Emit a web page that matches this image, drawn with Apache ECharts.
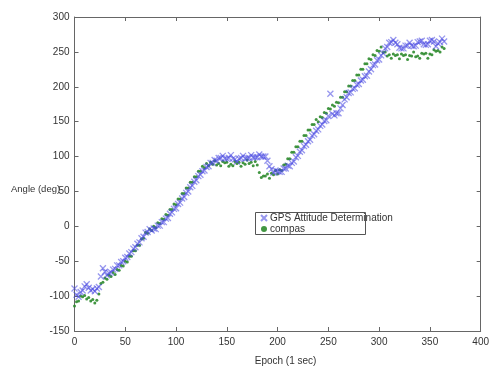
<!DOCTYPE html>
<html>
<head>
<meta charset="utf-8">
<script src="https://cdn.jsdelivr.net/npm/echarts@6/dist/echarts.min.js"></script>
<style>
  html, body { margin: 0; padding: 0; background: #fff; }
  #chart { width: 492px; height: 371px; }
</style>
</head>
<body>
<div id="chart"></div>
<script>
// epochs sampled every 2 s, from 0 to 364
const EPOCH_STEP = 2;
const xTicks = [0, 50, 100, 150, 200, 250, 300, 350, 400];
const yTicks = [-150, -100, -50, 0, 50, 100, 150, 200, 250, 300];

// GPS attitude determination (blue x)
const gps = [
  -89, -98, -101, -94, -92, -86, -83, -88, -92, -90,
  -93, -89, -87, -72, -60, -65, -70, -67, -66, -62,
  -61, -56, -56, -51, -50, -45, -44, -39, -37, -32,
  -30, -25, -23, -17, -15, -9, -8, -4, -6, -3,
  -4, 1, 1, 6, 6, 11, 12, 18, 20, 25,
  26, 32, 34, 40, 42, 48, 50, 56, 58, 64,
  66, 72, 74, 79, 80, 85, 86, 91, 91, 95,
  94, 98, 98, 101, 97, 97, 98, 102, 97, 96,
  93, 97, 98, 101, 97, 98, 98, 102, 99, 99,
  99, 103, 100, 100, 100, 94, 86, 82, 77, 80,
  79, 78, 78, 83, 83, 87, 86, 91, 93, 99,
  101, 107, 109, 115, 117, 122, 124, 130, 132, 137,
  139, 144, 146, 151, 152, 158, 190, 161, 159, 162,
  162, 169, 174, 182, 185, 191, 192, 197, 198, 203,
  204, 209, 210, 215, 216, 222, 225, 231, 232, 238,
  239, 245, 248, 255, 257, 263, 264, 267, 263, 261,
  256, 255, 255, 259, 259, 263, 259, 258, 259, 264,
  265, 266, 261, 260, 261, 266, 267, 265, 258, 262,
  264, 269, 265
];

// compass (green dots)
const compas = [
  -114, -108, -107, -100, -101, -99, -104, -102, -107, -105,
  -110, -106, -97, -82, -80, -74, -76, -70, -72, -66,
  -69, -62, -63, -56, -57, -50, -51, -43, -43, -35,
  -35, -27, -27, -18, -17, -9, -10, -4, -6, 0,
  -2, 5, 4, 11, 10, 17, 16, 24, 24, 32,
  31, 39, 39, 47, 47, 55, 55, 63, 63, 71,
  71, 79, 79, 86, 84, 90, 87, 92, 89, 94,
  88, 90, 87, 93, 91, 92, 86, 89, 87, 93,
  90, 92, 86, 91, 89, 95, 90, 92, 87, 93,
  88, 77, 70, 72, 72, 75, 69, 76, 74, 80,
  75, 81, 80, 88, 89, 97, 97, 106, 106, 114,
  114, 122, 122, 130, 130, 138, 138, 146, 146, 153,
  150, 157, 156, 163, 162, 169, 168, 174, 172, 178,
  177, 185, 185, 193, 193, 201, 201, 209, 209, 217,
  217, 225, 225, 233, 233, 240, 239, 246, 245, 252,
  251, 257, 249, 250, 244, 246, 241, 247, 245, 246,
  240, 247, 245, 246, 239, 245, 244, 250, 243, 244,
  241, 248, 247, 248, 241, 247, 246, 253, 251, 252,
  250, 257, 255
];

const toPoints = (vals) => vals.map((v, i) => [i * EPOCH_STEP, v]);

const crossIcon = 'path://M0,0L10,10M10,0L0,10';
const font = 'Liberation Sans, Arial, sans-serif';

const axisCommon = {
  type: 'value',
  axisLine: { show: true, onZero: false, lineStyle: { color: '#666', width: 1 } },
  axisTick: { show: true, inside: true, length: 4, lineStyle: { color: '#666' } },
  splitLine: { show: false },
  axisLabel: { color: '#333', fontSize: 10, fontFamily: font }
};

const chart = echarts.init(document.getElementById('chart'));
chart.setOption({
  backgroundColor: '#fff',
  animation: false,
  grid: { left: 74.5, right: 9, top: 17, bottom: 33 },
  xAxis: [
    Object.assign({}, axisCommon, {
      min: xTicks[0], max: xTicks[xTicks.length - 1], interval: 50,
      position: 'bottom',
      name: 'Epoch (1 sec)', nameLocation: 'middle', nameGap: 25,
      nameTextStyle: { color: '#333', fontSize: 10, fontFamily: font, padding: [0, 0, 0, 16] },
      axisLabel: Object.assign({}, axisCommon.axisLabel, { margin: 6 })
    }),
    Object.assign({}, axisCommon, {
      min: xTicks[0], max: xTicks[xTicks.length - 1], interval: 50,
      position: 'top', axisLabel: { show: false }
    })
  ],
  yAxis: [
    Object.assign({}, axisCommon, {
      min: yTicks[0], max: yTicks[yTicks.length - 1], interval: 50,
      position: 'left',
      axisLabel: Object.assign({}, axisCommon.axisLabel, { margin: 5 })
    }),
    Object.assign({}, axisCommon, {
      min: yTicks[0], max: yTicks[yTicks.length - 1], interval: 50,
      position: 'right', axisLabel: { show: false }
    })
  ],
  graphic: [
    {
      type: 'text', left: 11, top: 184,
      style: { text: 'Angle (deg)', fill: '#333', font: '9.5px ' + font }
    },
    // legend frame, narrower than the text as in the original
    {
      type: 'rect', left: 255, top: 212, z: 50,
      shape: { width: 110, height: 22 },
      style: { fill: '#fff', stroke: '#555', lineWidth: 1 }
    }
  ],
  legend: {
    orient: 'vertical',
    left: 256, top: 212,
    padding: [1, 4, 1, 4],
    itemGap: 1,
    itemWidth: 6, itemHeight: 6,
    zlevel: 0, z: 60,
    textStyle: { color: '#333', fontSize: 10, fontFamily: font, padding: [0, 0, 0, -2] },
    data: [
      { name: 'GPS Attitude Determination', icon: crossIcon },
      { name: 'compas', icon: 'circle' }
    ]
  },
  series: [
    {
      name: 'compas',
      type: 'scatter',
      data: toPoints(compas),
      symbol: 'circle',
      symbolSize: 3,
      itemStyle: { color: '#2e8b2e', opacity: 0.9 },
      z: 2
    },
    {
      name: 'GPS Attitude Determination',
      type: 'scatter',
      data: toPoints(gps),
      symbol: crossIcon,
      symbolSize: 6,
      itemStyle: { color: 'rgba(70,70,225,0.7)', borderColor: 'rgba(70,70,225,0.7)', borderWidth: 1.3 },
      z: 3
    }
  ]
});
</script>
</body>
</html>
